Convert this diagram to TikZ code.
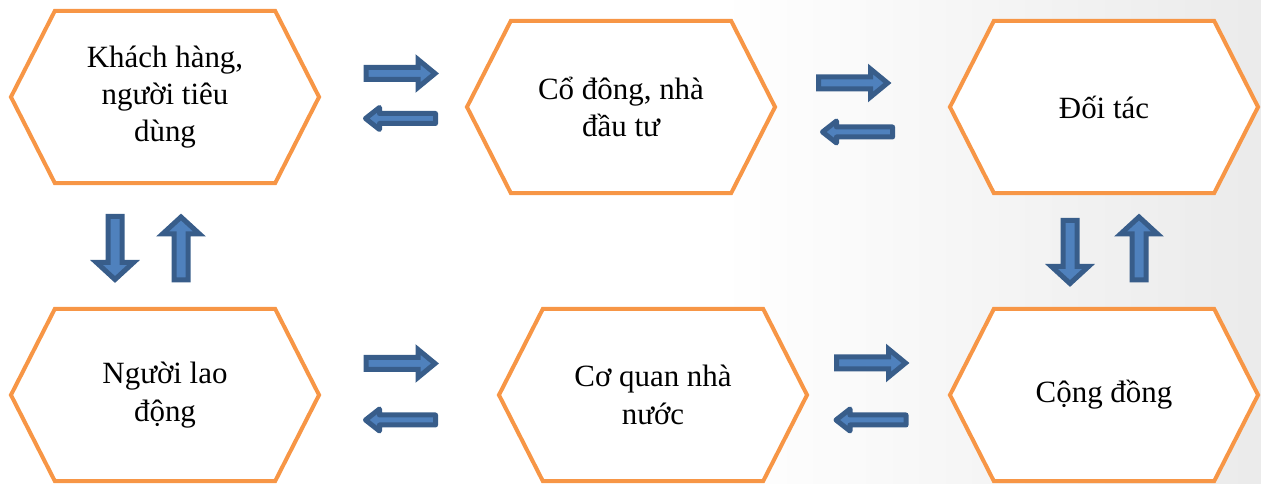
\documentclass[tikz,border=0pt]{standalone}
\usepackage{fontspec}
\setmainfont{Liberation Serif}
\usepackage{tikz}
\usetikzlibrary{shapes.symbols, calc}
\definecolor{hexorange}{RGB}{247, 150, 70}
\definecolor{arrowfill}{RGB}{79, 129, 189}
\definecolor{arrowline}{RGB}{56, 93, 138}

\tikzset{
    hexbox/.style={signal, signal to=east and west, signal pointer angle=126,
        draw=hexorange, line width=0.1cm, fill=white, minimum width=7.7cm,
        minimum height=4.3cm, inner sep=0pt, align=center,
        font=\fontsize{22}{26.5}\selectfont},
    blockarrow/.style={fill=arrowfill, draw=arrowline, line width=0.125cm},
    % wide arrow, pointing along +x
    bigarr/.pic={\draw[blockarrow, line join=miter] (-35,-6) -- (17,-6) -- (17,-14) -- (34,0) -- (17,14) -- (17,6) -- (-35,6) -- cycle;},
    % thin arrow with round corners, pointing along +x
    thinarr/.pic={\draw[blockarrow, line join=round] (-35,-5) -- (21,-5) -- (21,-11) -- (35,0) -- (21,11) -- (21,5) -- (-35,5) -- cycle;},
    % vertical arrows, pointing along +x before rotation
    varr/.pic={\draw[blockarrow, line join=miter] (-32,-7) -- (14,-7) -- (14,-18.5) -- (31,0) -- (14,18.5) -- (14,7) -- (-32,7) -- cycle;}
}

\begin{document}
\begin{tikzpicture}[x=0.025cm, y=0.025cm]
        \useasboundingbox (0,0) rectangle (1261,484);
        % Background
        \shade[left color=white, right color=black!8] (720,0) rectangle (1261,484);

        % Stakeholder boxes
        \node[hexbox] (kh) at (165,387) {\raisebox{-7pt}{\begin{tabular}{@{}c@{}}Khách hàng,\\người tiêu\\dùng\end{tabular}}};
        \node[hexbox] (cd) at (621,377) {Cổ đông, nhà\\đầu tư};
        \node[hexbox] (dt) at (1104,377) {Đối tác};
        \node[hexbox] (nld) at (165,89) {Người lao\\động};
        \node[hexbox] (cq) at (653,89) {Cơ quan nhà\\nước};
        \node[hexbox] (cdg) at (1104,89) {Cộng đồng};

        % Arrows, top row
        \pic at (401,410.5) {bigarr};
        \pic[rotate=180] at (400.5,365.5) {thinarr};
        \pic at (853.5,401) {bigarr};
        \pic[rotate=180] at (857.5,352) {thinarr};

        % Arrows, bottom row
        \pic at (401,120.5) {bigarr};
        \pic[rotate=180] at (400.5,64) {thinarr};
        \pic at (871.5,121) {bigarr};
        \pic[rotate=180] at (871,64) {thinarr};

        % Arrows, up and down
        \pic[rotate=-90] at (115,235.5) {varr};
        \pic[rotate=90] at (181,236) {varr};
        \pic[rotate=-90] at (1070,231.5) {varr};
        \pic[rotate=90] at (1139,236) {varr};
    \end{tikzpicture}
\end{document}
